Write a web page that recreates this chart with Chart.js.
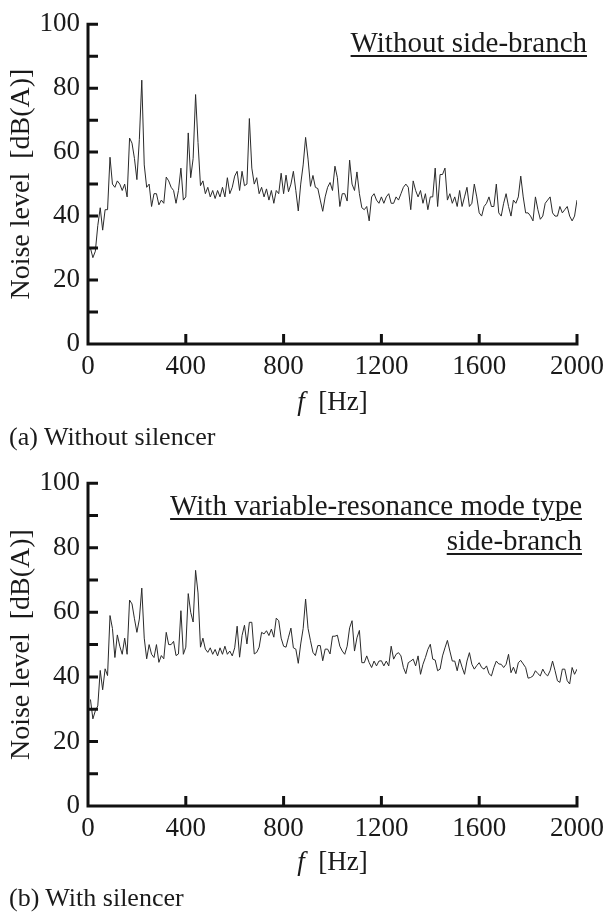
<!DOCTYPE html>
<html>
<head>
<meta charset="utf-8">
<script src="https://cdn.jsdelivr.net/npm/chart.js@4.4.0/dist/chart.umd.min.js"></script>
<style>
  html, body { margin:0; padding:0; background:#fff; }
  body { width:608px; height:914px; position:relative; overflow:hidden; font-family:"Liberation Serif", "Times New Roman", serif; color:#1a1a1a; }
  canvas { position:absolute; left:0; }
  .txt { position:absolute; white-space:nowrap; line-height:1; }
  .ann { position:absolute; white-space:nowrap; font-size:29px; text-align:right; }
  .ann span { text-decoration:underline; text-decoration-thickness:2px; text-underline-offset:3px; }
</style>
</head>
<body>
<canvas id="c1" width="611" height="430" style="top:0px"></canvas>
<canvas id="c2" width="611" height="433" style="top:459px"></canvas>

<div class="ann" style="right:21px; top:28px; line-height:29px;"><span>Without side-branch</span></div>
<div class="ann" style="right:26px; top:488px; line-height:35px;"><span>With variable-resonance mode type</span><br><span>side-branch</span></div>

<div class="txt" style="left:0; width:665px; text-align:center; top:388px; font-size:27px;"><i>f</i>&nbsp;&nbsp;[Hz]</div>
<div class="txt" style="left:0; width:665px; text-align:center; top:848px; font-size:27px;"><i>f</i>&nbsp;&nbsp;[Hz]</div>

<div class="txt" style="left:9px; top:424px; font-size:26px;">(a) Without silencer</div>
<div class="txt" style="left:9px; top:885px; font-size:26px;">(b) With silencer</div>

<script>
// Frequency grid [Hz]
const freq = [10,20,30,40,50,60,70,80,90,100,110,120,130,140,150,160,170,180,190,200,
210,220,230,240,250,260,270,280,290,300,310,320,330,340,350,360,370,380,390,400,
410,420,430,440,450,460,470,480,490,500,510,520,530,540,550,560,570,580,590,600,
610,620,630,640,650,660,670,680,690,700,710,720,730,740,750,760,770,780,790,800,
810,820,830,840,850,860,870,880,890,900,910,920,930,940,950,960,970,980,990,1000,
1010,1020,1030,1040,1050,1060,1070,1080,1090,1100,1110,1120,1130,1140,1150,1160,1170,1180,1190,1200,
1210,1220,1230,1240,1250,1260,1270,1280,1290,1300,1310,1320,1330,1340,1350,1360,1370,1380,1390,1400,
1410,1420,1430,1440,1450,1460,1470,1480,1490,1500,1510,1520,1530,1540,1550,1560,1570,1580,1590,1600,
1610,1620,1630,1640,1650,1660,1670,1680,1690,1700,1710,1720,1730,1740,1750,1760,1770,1780,1790,1800,
1810,1820,1830,1840,1850,1860,1870,1880,1890,1900,1910,1920,1930,1940,1950,1960,1970,1980,1990,2000];

// (a) Without silencer — noise level [dB(A)]
const noiseWithout = [30,27,29,37,42.6,35.6,42,42,58.4,50,49,51,50,48,50,46,64.4,62.8,58,51.4,
64,82.5,56,49,50,43,47,47,43.5,45,44,52.2,51,49,48,44,48,55,45,46,
66,52,58,78,63,49.5,51,47,49,46,48,45.5,48,46,49,46,52,47,49,52.5,
54,48,54,49.5,50,70.5,55,50,52,47,49,46,48.5,45,48,44,48,47,53.4,47,
52.8,47.6,50,54,48,41.6,50,56,64.6,57.8,49.3,52.7,49,48.6,45,41.5,46,49,50.5,48,
55.6,52,43,47,47,44.7,57.5,50,48,53.8,47,42.6,42,43,38.5,46,47,45,44,46,
44,46,47,44,44,46,45,47,49,50,49,42,51,48,46,48,44,47,42,46,
46,55,43,53,53,55,45,47,44,46,43,48,43,46,49,43,44,50,46,41,
40,43,44,46,43,43,50,41,40,44,47,43,40,45,44,46,52.5,46,41,41,
40,38.5,46,42,39,40,44,45,46,41,40,40,43,41,42,43,40,38.5,40,45];

// (b) With silencer — noise level [dB(A)]
const noiseWith = [33,27,29.5,31,42,36,42.5,40.4,59,55,46,53,49.5,47,52,47,63.8,62.6,58,53.8,
57.9,67.5,52,45.6,50,47,46,50,44.5,46.6,45.6,53.8,50,50,51,46.6,47.1,60.5,47,49.2,
65.8,60,57,73,66,49.2,52,48.6,47.6,49,47,48.5,46.5,49,47,49.5,47,48,46.5,49,
55.7,46.1,52.8,56,50.2,56.9,56.9,47.1,47.6,49.2,53.8,53.3,54.3,52.8,54.8,52.3,58.2,57.4,52,49.5,
49.2,52.3,55.1,49,48.6,44.2,50.2,55,64.1,55,51.2,47.6,46.6,49.7,49.7,45,48.6,48.6,47.1,52.6,
52.6,52.9,49.5,48,47,49.5,55.2,57.4,48,52.1,54.4,44.4,44.4,46.5,44.4,42.9,44.9,43.4,44.9,45,
43.4,44.9,43.4,49.5,45.5,47,47.5,46.5,42.9,41,44.4,44.9,45.5,43.4,46.5,40.8,43.9,46,48.5,50.1,
45.5,45.2,41.9,42.4,46.5,49,51.3,48,44.9,44.9,41.9,45.5,43,40.8,44.9,47.5,43.9,42.4,43.5,44.4,
42.9,42.4,43.4,41,40.3,42.9,44.9,44,43.9,42.9,43.9,47,41.3,43,41,44.4,45.1,44,42.9,39.6,
39.8,40.3,41.9,41,40.3,42.4,41,40.3,41.9,44.9,42,38.8,38.3,42.4,42.4,38.8,37.8,42.9,40.8,42.4];

// Axis ticks
const xTicks = [0,400,800,1200,1600,2000];
const yTicks = [0,20,40,60,80,100];
const yMinorTicks = [10,30,50,70,90];

const FONT = "'Liberation Serif', 'Times New Roman', serif";
const INK = '#1a1a1a';

const axesPlugin = {
  id: 'axesPlugin',
  afterDraw(chart) {
    const ctx = chart.ctx, x = chart.scales.x, y = chart.scales.y;
    const L = x.getPixelForValue(0), R = x.getPixelForValue(2000);
    const B = y.getPixelForValue(0), T = y.getPixelForValue(100);
    ctx.save();
    ctx.strokeStyle = '#111';
    ctx.lineWidth = 3;
    ctx.lineCap = 'butt';
    ctx.beginPath();
    ctx.moveTo(L, T - 1.5); ctx.lineTo(L, B + 1.5);
    ctx.moveTo(L - 1.5, B); ctx.lineTo(R + 1.5, B);
    yTicks.concat(yMinorTicks).forEach(v => {
      const py = y.getPixelForValue(v);
      ctx.moveTo(L, py); ctx.lineTo(L + 10, py);
    });
    xTicks.forEach(v => {
      if (v === 0) return;
      const px = x.getPixelForValue(v);
      ctx.moveTo(px, B); ctx.lineTo(px, B - 10);
    });
    ctx.stroke();
    ctx.restore();
  }
};

function makeChart(id, values, xAxisHeight) {
  const pts = freq.map((f, i) => ({ x: f, y: values[i] }));
  return new Chart(document.getElementById(id), {
    type: 'line',
    data: { datasets: [{ data: pts, borderColor: '#2a2a2a', borderWidth: 1, pointRadius: 0, tension: 0, fill: false }] },
    options: {
      responsive: false, animation: false, devicePixelRatio: 1,
      layout: { padding: { top: 22, right: 31, left: 0, bottom: 0 } },
      plugins: { legend: { display: false }, tooltip: { enabled: false } },
      scales: {
        x: {
          type: 'linear', min: 0, max: 2000,
          afterBuildTicks: s => { s.ticks = xTicks.map(v => ({ value: v })); },
          ticks: { font: { family: FONT, size: 27 }, color: INK, padding: 7, maxRotation: 0, autoSkip: false,
                   callback: v => String(v) },
          grid: { display: false, drawTicks: false }, border: { display: false },
          afterFit: s => { s.height = xAxisHeight; }
        },
        y: {
          min: 0, max: 100,
          afterBuildTicks: s => { s.ticks = yTicks.map(v => ({ value: v })); },
          ticks: { font: { family: FONT, size: 27 }, color: INK, padding: 8, callback: v => String(v) },
          grid: { display: false, drawTicks: false }, border: { display: false },
          title: { display: true, text: 'Noise level  [dB(A)]', font: { family: FONT, size: 28 }, color: INK, padding: { top: 5, bottom: 0 } },
          afterFit: s => { s.width = 88; }
        }
      }
    },
    plugins: [axesPlugin]
  });
}

makeChart('c1', noiseWithout, 86);
makeChart('c2', noiseWith, 86);
</script>
</body>
</html>
